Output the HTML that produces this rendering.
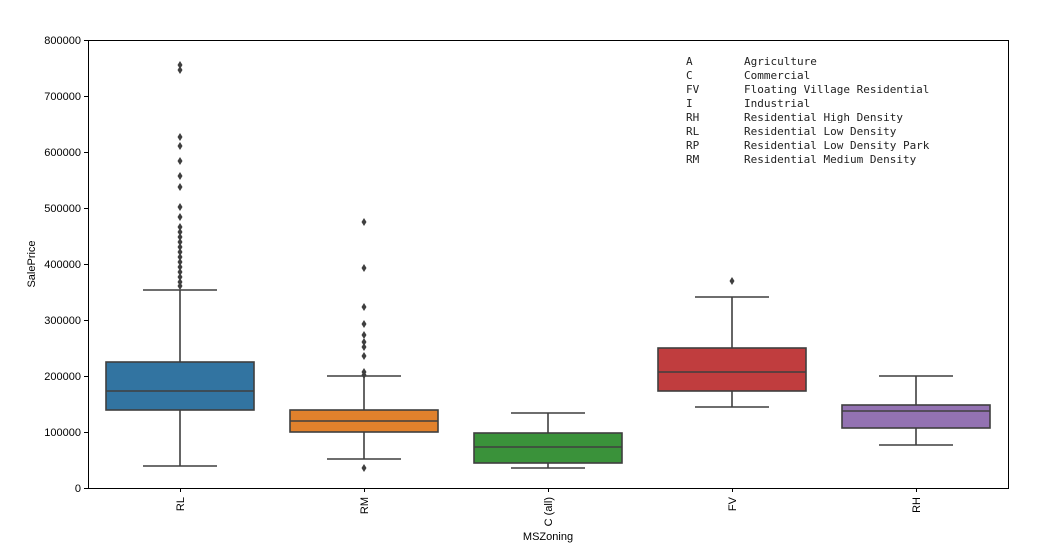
<!DOCTYPE html><html><head><style>body{margin:0;background:#fff}svg{display:block}text{font-family:"Liberation Sans",sans-serif;font-size:11px;fill:#000}.m text{font-family:"DejaVu Sans Mono","Liberation Mono",monospace;font-size:11px;fill:#222}</style></head><body>
<svg width="1056" height="556" xmlns="http://www.w3.org/2000/svg">
<g stroke="#3f3f3f" stroke-width="1.6">
<line x1="180" y1="290" x2="180" y2="362"/><line x1="180" y1="410" x2="180" y2="466"/>
<line x1="143" y1="290" x2="217" y2="290"/><line x1="143" y1="466" x2="217" y2="466"/>
<rect x="106" y="362" width="148" height="48" fill="#3274a1"/><line x1="106" y1="391" x2="254" y2="391"/>
<line x1="364" y1="376" x2="364" y2="410"/><line x1="364" y1="432" x2="364" y2="459"/>
<line x1="327" y1="376" x2="401" y2="376"/><line x1="327" y1="459" x2="401" y2="459"/>
<rect x="290" y="410" width="148" height="22" fill="#e1812c"/><line x1="290" y1="421" x2="438" y2="421"/>
<line x1="548" y1="413" x2="548" y2="433"/><line x1="548" y1="463" x2="548" y2="468"/>
<line x1="511" y1="413" x2="585" y2="413"/><line x1="511" y1="468" x2="585" y2="468"/>
<rect x="474" y="433" width="148" height="30" fill="#3a923a"/><line x1="474" y1="447" x2="622" y2="447"/>
<line x1="732" y1="297" x2="732" y2="348"/><line x1="732" y1="391" x2="732" y2="407"/>
<line x1="695" y1="297" x2="769" y2="297"/><line x1="695" y1="407" x2="769" y2="407"/>
<rect x="658" y="348" width="148" height="43" fill="#c03d3e"/><line x1="658" y1="372" x2="806" y2="372"/>
<line x1="916" y1="376" x2="916" y2="405"/><line x1="916" y1="428" x2="916" y2="445"/>
<line x1="879" y1="376" x2="953" y2="376"/><line x1="879" y1="445" x2="953" y2="445"/>
<rect x="842" y="405" width="148" height="23" fill="#9372b2"/><line x1="842" y1="411" x2="990" y2="411"/>
</g>
<g fill="#3f3f3f">
<path d="M180 61l2.5 4-2.5 4-2.5-4zM180 66l2.5 4-2.5 4-2.5-4zM180 133l2.5 4-2.5 4-2.5-4zM180 142l2.5 4-2.5 4-2.5-4zM180 157l2.5 4-2.5 4-2.5-4zM180 172l2.5 4-2.5 4-2.5-4zM180 183l2.5 4-2.5 4-2.5-4zM180 203l2.5 4-2.5 4-2.5-4zM180 213l2.5 4-2.5 4-2.5-4zM180 223l2.5 4-2.5 4-2.5-4zM180 228l2.5 4-2.5 4-2.5-4zM180 233l2.5 4-2.5 4-2.5-4zM180 238l2.5 4-2.5 4-2.5-4zM180 243l2.5 4-2.5 4-2.5-4zM180 248l2.5 4-2.5 4-2.5-4zM180 253l2.5 4-2.5 4-2.5-4zM180 258l2.5 4-2.5 4-2.5-4zM180 263l2.5 4-2.5 4-2.5-4zM180 268l2.5 4-2.5 4-2.5-4zM180 273l2.5 4-2.5 4-2.5-4zM180 278l2.5 4-2.5 4-2.5-4zM180 282l2.5 4-2.5 4-2.5-4z
M364 218l2.5 4-2.5 4-2.5-4zM364 264l2.5 4-2.5 4-2.5-4zM364 303l2.5 4-2.5 4-2.5-4zM364 320l2.5 4-2.5 4-2.5-4zM364 331l2.5 4-2.5 4-2.5-4zM364 338l2.5 4-2.5 4-2.5-4zM364 343l2.5 4-2.5 4-2.5-4zM364 352l2.5 4-2.5 4-2.5-4zM364 368l2.5 4-2.5 4-2.5-4zM364 371l2.5 4-2.5 4-2.5-4zM364 464l2.5 4-2.5 4-2.5-4z
M732 277l2.5 4-2.5 4-2.5-4z"/>
</g>
<g stroke="#000" stroke-width="1" fill="none">
<rect x="88.5" y="40.5" width="920" height="448"/>
<path d="M84 40.5h4M84 96.5h4M84 152.5h4M84 208.5h4M84 264.5h4M84 320.5h4M84 376.5h4M84 432.5h4M84 488.5h4M180.5 488v4M364.5 488v4M548.5 488v4M732.5 488v4M916.5 488v4"/>
</g>
<g text-anchor="end">
<text x="81" y="44">800000</text><text x="81" y="100">700000</text><text x="81" y="156">600000</text><text x="81" y="212">500000</text><text x="81" y="268">400000</text><text x="81" y="324">300000</text><text x="81" y="380">200000</text><text x="81" y="436">100000</text><text x="81" y="492">0</text>
<text transform="translate(184,497) rotate(-90)">RL</text>
<text transform="translate(368,497) rotate(-90)">RM</text>
<text transform="translate(552,497) rotate(-90)">C (all)</text>
<text transform="translate(736,497) rotate(-90)">FV</text>
<text transform="translate(920,497) rotate(-90)">RH</text>
</g>
<text x="548" y="540" text-anchor="middle">MSZoning</text>
<text transform="translate(35,264) rotate(-90)" text-anchor="middle">SalePrice</text>
<g class="m">
<text x="686" y="65">A</text><text x="744" y="65">Agriculture</text>
<text x="686" y="79">C</text><text x="744" y="79">Commercial</text>
<text x="686" y="93">FV</text><text x="744" y="93">Floating Village Residential</text>
<text x="686" y="107">I</text><text x="744" y="107">Industrial</text>
<text x="686" y="121">RH</text><text x="744" y="121">Residential High Density</text>
<text x="686" y="135">RL</text><text x="744" y="135">Residential Low Density</text>
<text x="686" y="149">RP</text><text x="744" y="149">Residential Low Density Park</text>
<text x="686" y="163">RM</text><text x="744" y="163">Residential Medium Density</text>
</g>
</svg></body></html>
